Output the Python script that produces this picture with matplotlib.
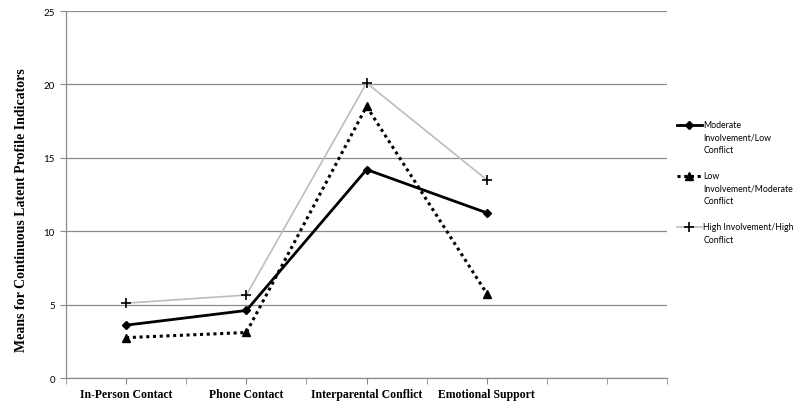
import matplotlib.pyplot as plt
from matplotlib.lines import Line2D
from matplotlib.ticker import MultipleLocator

# categories on the x axis (last slot is empty in the original)
categories = ['In-Person Contact', 'Phone Contact', 'Interparental Conflict', 'Emotional Support']

# means per latent profile
moderate_low = [3.6, 4.6, 14.2, 11.25]
low_moderate = [2.75, 3.1, 18.5, 5.75]
high_high = [5.1, 5.65, 20.1, 13.5]

labels = ['Moderate\nInvolvement/Low\nConflict',
          'Low\nInvolvement/Moderate\nConflict',
          'High Involvement/High\nConflict']

styles = [
    dict(color='black', lw=2, marker='D', ms=4),
    dict(color='black', lw=2.2, ls=(0, (1, 1.2)), marker='^', ms=6),
    dict(color='#bdbdbd', lw=1.2, marker='+', ms=7, mec='black', mew=1.2),
]

x = list(range(len(categories)))

fig = plt.figure(figsize=(8, 4.1), dpi=100)
ax = fig.add_axes([0.0825, 0.0756, 0.7515, 0.8951])

for vals, st in zip([moderate_low, low_moderate, high_high], styles):
    ax.plot(x, vals, **st)

ax.set_xlim(-0.5, 4.5)
ax.set_ylim(0, 25)
ax.set_yticks([0, 5, 10, 15, 20, 25])
ax.yaxis.grid(True, color='#8c8c8c', lw=0.9)
ax.set_axisbelow(True)

ax.set_xticks(x)
ax.set_xticklabels(categories, fontfamily='Liberation Serif', fontweight='bold', fontsize=8.5)
ax.xaxis.set_minor_locator(MultipleLocator(0.5))
ax.tick_params(axis='x', which='both', length=4, color='#8c8c8c', pad=3)
ax.tick_params(axis='y', length=4, color='#8c8c8c', labelsize=7, pad=4)
for lab in ax.get_yticklabels():
    lab.set_fontfamily('Lato')

for side in ['top', 'right']:
    ax.spines[side].set_visible(False)
for side in ['left', 'bottom']:
    ax.spines[side].set_color('#8c8c8c')
    ax.spines[side].set_linewidth(0.9)

ax.set_ylabel('Means for Continuous Latent Profile Indicators', fontfamily='Liberation Serif',
              fontweight='bold', fontsize=10)
ax.yaxis.set_label_coords(-0.064, 0.46)

# legend drawn by hand so the sample sits on the first line of each label
leg_y = [0.6927, 0.5683, 0.4439]
for ly, st, lab in zip(leg_y, styles, labels):
    st2 = dict(st)
    st2['markevery'] = [1]
    fig.add_artist(Line2D([0.846, 0.8615, 0.8775], [ly, ly, ly], **st2))
    fig.text(0.879, ly + 0.013, lab, fontfamily='Lato', fontsize=6.3, va='top',
             ha='left', linespacing=1.55)

fig.savefig('out.png', dpi=100)
